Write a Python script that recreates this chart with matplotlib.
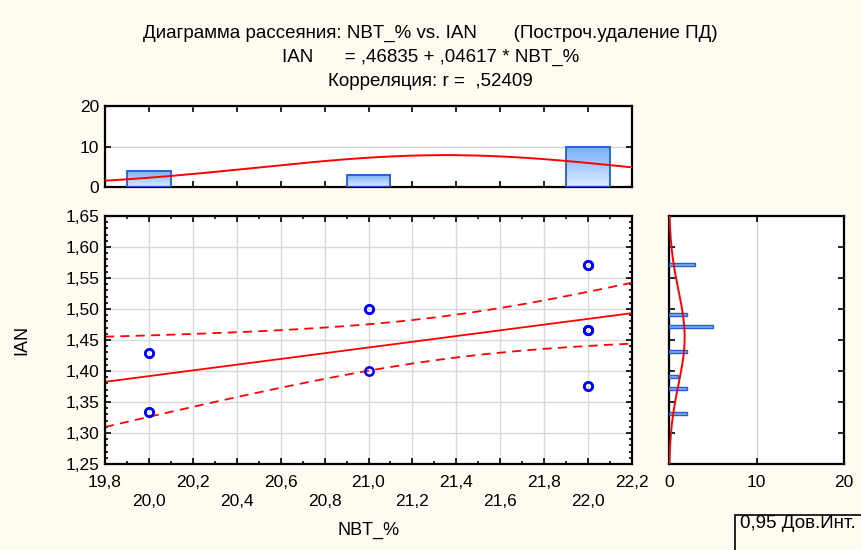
import numpy as np
import matplotlib
matplotlib.use("Agg")
import matplotlib.pyplot as plt
from matplotlib.patches import Rectangle
from matplotlib.ticker import MultipleLocator, FixedLocator

plt.rcParams['font.family'] = ['Liberation Sans', 'DejaVu Sans']
plt.rcParams['font.size'] = 12.5

# ---- data ----
x_vals = [20, 20, 20, 20, 21, 21, 21, 22, 22, 22, 22, 22, 22, 22, 22, 22, 22]
y_vals = [1.428571, 1.428571, 1.333333, 1.333333,
          1.5, 1.5, 1.4,
          1.571429, 1.571429, 1.571429,
          1.466667, 1.466667, 1.466667, 1.466667, 1.466667,
          1.375, 1.375]
x_ticks = [19.8, 20.0, 20.2, 20.4, 20.6, 20.8, 21.0, 21.2, 21.4, 21.6, 21.8, 22.0, 22.2]
y_ticks = [1.25, 1.30, 1.35, 1.40, 1.45, 1.50, 1.55, 1.60, 1.65]
hist_ticks = [0, 10, 20]
title_lines = ["Диаграмма рассеяния: NBT_% vs. IAN       (Построч.удаление ПД)",
               "IAN      = ,46835 + ,04617 * NBT_%",
               "Корреляция: r =  ,52409"]
t_crit = 2.131  # t(0.975, df=15)

x = np.array(x_vals, float)
y = np.array(y_vals, float)
n = len(x)

BG = '#FFFBF0'
RED = '#FF0000'
BLUE = '#0000FF'

def fmt(v, d):
    return f"{v:.{d}f}".replace('.', ',')

fig = plt.figure(figsize=(8.61, 5.5), dpi=100, facecolor=BG)
W, H = 861, 550
def ax_rect(l, t, r, b):
    return [l / W, 1 - b / H, (r - l) / W, (b - t) / H]

ax = fig.add_axes(ax_rect(105, 216, 632, 464))
axt = fig.add_axes(ax_rect(105, 106, 632, 187))
axr = fig.add_axes(ax_rect(669, 216, 844, 464))

for a in (ax, axt, axr):
    a.set_facecolor('white')
    for s in a.spines.values():
        s.set_linewidth(1.6)
        s.set_color('black')
    a.tick_params(direction='in', which='both', top=True, right=True, width=1.2)
    a.tick_params(which='major', length=4)
    a.tick_params(which='minor', length=2)
    a.set_axisbelow(True)

# ---- main scatter ----
xmin, xmax = 19.8, 22.2
ax.set_xlim(xmin, xmax)
ax.set_ylim(1.25, 1.65)
ax.xaxis.set_major_locator(FixedLocator(x_ticks))
ax.xaxis.set_minor_locator(MultipleLocator(0.1))
ax.yaxis.set_major_locator(FixedLocator(y_ticks))
ax.yaxis.set_minor_locator(MultipleLocator(0.01))
xl = [fmt(v, 1) if i % 2 == 0 else "\n" + fmt(v, 1) for i, v in enumerate(x_ticks)]
ax.set_xticklabels(xl, linespacing=1.3)
ax.set_yticklabels([fmt(v, 2) for v in y_ticks])
ax.tick_params(axis='x', which='major', pad=8)
ax.tick_params(axis='y', which='major', pad=4)
ax.grid(True, which='major', color='#D9D9D9', lw=1.0)

slope, intercept = np.polyfit(x, y, 1)
mx = x.mean()
sxx = ((x - mx) ** 2).sum()
resid = y - (intercept + slope * x)
s = np.sqrt((resid ** 2).sum() / (n - 2))
xs = np.linspace(xmin, xmax, 200)
yh = intercept + slope * xs
half = t_crit * s * np.sqrt(1 / n + (xs - mx) ** 2 / sxx)
ax.plot(xs, yh, color=RED, lw=1.3)
ax.plot(xs, yh + half, color=RED, lw=1.3, ls=(0, (5, 3.5)))
ax.plot(xs, yh - half, color=RED, lw=1.3, ls=(0, (5, 3.5)))
ax.plot(x, y, 'o', ms=6, mfc='none', mec=BLUE, mew=1.8, zorder=5)

ax.set_xlabel("NBT_%", fontsize=13)
ax.xaxis.set_label_coords(0.5, (464 - 530) / 248, transform=ax.transAxes)
ax.xaxis.label.set_va('center')
ax.set_ylabel("IAN", fontsize=13)
ax.yaxis.set_label_coords((22 - 105) / 527, 0.5, transform=ax.transAxes)
ax.yaxis.label.set_va('center')

# ---- top histogram ----
xedges = [19.5, 20.5, 21.5, 22.5]
cnt, _ = np.histogram(x, bins=xedges)
centers = (np.array(xedges[:-1]) + np.array(xedges[1:])) / 2
bw_x = 1.0
axt.set_xlim(xmin, xmax)
axt.set_ylim(0, 20)
axt.xaxis.set_major_locator(FixedLocator(x_ticks))
axt.set_xticklabels([])
axt.yaxis.set_major_locator(FixedLocator(hist_ticks))
axt.set_yticklabels([str(v) for v in hist_ticks])
axt.tick_params(axis='y', pad=4)
axt.grid(True, axis='y', color='#D0D0D0', lw=1.0)
axt.grid(False, axis='x')
grad = np.linspace(0, 1, 64).reshape(-1, 1)
cmap_b = matplotlib.colors.LinearSegmentedColormap.from_list('b', ['#DCEBFF', '#76AEF6'])
for c, h in zip(centers, cnt):
    r = Rectangle((c - 0.1, 0), 0.2, h, fc='none', ec='#1F5FD6', lw=1.3, zorder=3)
    axt.add_patch(r)
    axt.imshow(grad, extent=(c - 0.1, c + 0.1, 0, h), origin='lower',
               cmap=cmap_b, aspect='auto', zorder=2)
xx = np.linspace(xmin, xmax, 200)
sdx = x.std(ddof=1)
axt.plot(xx, n * bw_x * np.exp(-0.5 * ((xx - mx) / sdx) ** 2) / (sdx * np.sqrt(2 * np.pi)),
         color=RED, lw=1.4, zorder=4)

# ---- right histogram ----
yedges = np.arange(1.321, 1.6, 0.02)
ycnt, _ = np.histogram(y, bins=yedges)
ycent = (yedges[:-1] + yedges[1:]) / 2
axr.set_xlim(0, 20)
axr.set_ylim(1.25, 1.65)
axr.yaxis.set_major_locator(FixedLocator(y_ticks))
axr.set_yticklabels([])
axr.xaxis.set_major_locator(FixedLocator(hist_ticks))
axr.set_xticklabels([str(v) for v in hist_ticks])
axr.tick_params(axis='x', pad=8)
axr.grid(True, axis='x', color='#D0D0D0', lw=1.0)
for c, h in zip(ycent, ycnt):
    if h > 0:
        axr.barh(c, h, height=0.0048, color='#86B1EA', edgecolor='#1F5FD6', lw=1.0, zorder=3)
my = y.mean()
sdy = y.std(ddof=1)
yy = np.linspace(1.25, 1.65, 200)
axr.plot(n * 0.02 * np.exp(-0.5 * ((yy - my) / sdy) ** 2) / (sdy * np.sqrt(2 * np.pi)), yy,
         color=RED, lw=1.4, zorder=4)

# ---- titles ----
for i, t in enumerate(title_lines):
    fig.text(0.5, 1 - (33 + 24 * i) / H, t, ha='center', va='center', fontsize=13.5)

# ---- legend box ----
fig.add_artist(Rectangle((735 / W, 1 - 560 / H), 140 / W, 45 / H, transform=fig.transFigure,
                         fc=BG, ec='black', lw=1.2, clip_on=False))
fig.text(740 / W, 1 - 523 / H, "0,95 Дов.Инт.", ha='left', va='center', fontsize=13.5)

fig.savefig("out.png", dpi=100, facecolor=BG)
